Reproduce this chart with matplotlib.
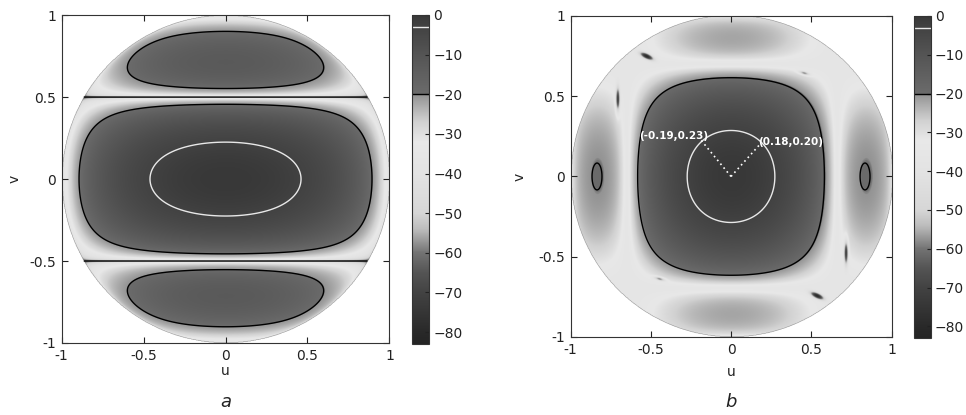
import numpy as np
import matplotlib
matplotlib.use('Agg')
import matplotlib.pyplot as plt
from matplotlib.colors import LinearSegmentedColormap

# dB -> gray colour scale
scale_db = [-83, -80, -70, -65, -60, -57, -54, -50, -40, -32, -27, -23, -20.2, -20, -10, -3, 0]
scale_gray = [0.14, 0.16, 0.26, 0.33, 0.45, 0.60, 0.74, 0.84, 0.89, 0.91, 0.82, 0.68, 0.58, 0.42, 0.33, 0.26, 0.22]
cbar_ticks = [0, -10, -20, -30, -40, -50, -60, -70, -80]
contour_levels = [-20, -3]
contour_colors = ['black', '#e8e8e8']
axis_ticks = [-1, -0.5, 0, 0.5, 1]
axis_ticklabels = ['-1', '-0.5', '0', '0.5', '1']

# panel a: 2-element factor in v times element pattern
a_spacing = 1.0
a_pu = 2.3
a_pv = 2.12
a_pr = 0.6
a_floor_db = -34

# panel b: separable pattern + filled nulls
b_au = 4.8
b_av = 4.5
b_pu = 1.05
b_pv = 1.2
b_floor_db = -36
b_null_u = [-0.53, 0.45, -0.71, 0.71, -0.45, 0.53]
b_null_v = [0.745, 0.64, 0.477, -0.477, -0.64, -0.745]
b_null_len = [0.045, 0.035, 0.075, 0.075, 0.035, 0.045]
b_null_wid = [0.016, 0.010, 0.012, 0.012, 0.010, 0.016]
b_null_ang = [-25, -15, 90, 90, -15, -25]
b_null_depth = [45, 28, 40, 40, 28, 45]

# half power points marked on panel b
peak_u = [-0.19, 0.18]
peak_v = [0.23, 0.20]
peak_text = ['(-0.19,0.23)', '(0.18,0.20)']
peak_text_uv = [(-0.36, 0.25), (0.37, 0.215)]

vmin, vmax = -83, 0
pos = [(d - vmin) / (vmax - vmin) for d in scale_db]
cmap = LinearSegmentedColormap.from_list('dbgray', [(p, (g, g, g)) for p, g in zip(pos, scale_gray)], N=1024)

n = 700
uu = np.linspace(-1, 1, n)
U, V = np.meshgrid(uu, uu)
R2 = U**2 + V**2
inside = R2 <= 1.0
Uc = np.clip(1 - U**2, 0, 1)
Vc = np.clip(1 - V**2, 0, 1)
Rc = np.clip(1 - R2, 0, 1)

# pattern a
AFa = np.cos(np.pi * a_spacing * V)
Pa = AFa**2 * (Uc**a_pu * Vc**a_pv * Rc**a_pr + 10**(a_floor_db / 10))
Da = 10 * np.log10(np.maximum(Pa, 1e-12))
Da = np.clip(Da, vmin, vmax)
Da = np.ma.masked_where(~inside, Da)

# pattern b
Pb = np.sinc(b_au * U / np.pi)**2 * np.sinc(b_av * V / np.pi)**2 * Uc**b_pu * Vc**b_pv
Pb = Pb + 10**(b_floor_db / 10)
Db = 10 * np.log10(np.maximum(Pb, 1e-12))
for nu, nv, ln, wd, ang, dep in zip(b_null_u, b_null_v, b_null_len, b_null_wid, b_null_ang, b_null_depth):
    t = np.deg2rad(ang)
    du = U - nu
    dv = V - nv
    along = du * np.cos(t) + dv * np.sin(t)
    across = -du * np.sin(t) + dv * np.cos(t)
    q = (along / ln)**2 + (across / wd)**2
    Db = Db - dep * np.exp(-q)
Db = np.clip(Db, vmin, vmax)
Db = np.ma.masked_where(~inside, Db)

fig = plt.figure(figsize=(9.66, 4.15), dpi=100)
ax_a = fig.add_axes([0.0611, 0.1735, 0.3447, 0.790])
cax_a = fig.add_axes([0.4265, 0.171, 0.0176, 0.793])
ax_b = fig.add_axes([0.588, 0.188, 0.3375, 0.7735])
cax_b = fig.add_axes([0.946, 0.1855, 0.0176, 0.776])

txt = '#222222'
panels = [(ax_a, cax_a, Da, 'a', -0.123, -0.18, 1), (ax_b, cax_b, Db, 'b', -0.138, -0.2025, 6)]
for ax, cax, D, letter, ylab_x, let_y, xpad in panels:
    im = ax.imshow(D, extent=[-1, 1, -1, 1], origin='lower', cmap=cmap, vmin=vmin, vmax=vmax,
                   interpolation='bilinear')
    cs = ax.contour(U, V, D, levels=contour_levels, colors=contour_colors, linewidths=1.0)
    ax.set_xlim(-1, 1)
    ax.set_ylim(-1, 1)
    ax.set_xticks(axis_ticks)
    ax.set_xticklabels(axis_ticklabels)
    ax.set_yticks(axis_ticks)
    ax.set_yticklabels(axis_ticklabels)
    ax.tick_params(direction='in', length=4, labelsize=10, colors=txt, top=True, right=True, pad=4)
    for s in ax.spines.values():
        s.set_color('#333333')
    ax.set_xlabel('u', fontsize=10, color=txt, labelpad=xpad)
    ax.set_ylabel('v', fontsize=10, color=txt)
    ax.yaxis.set_label_coords(ylab_x, 0.5)
    ax.text(0.5, let_y, letter, transform=ax.transAxes, fontsize=13, style='italic',
            color=txt, ha='center', va='center')
    cb = fig.colorbar(im, cax=cax, ticks=cbar_ticks)
    cb.add_lines(cs)
    cb.outline.set_edgecolor('#333333')
    cax.tick_params(direction='in', length=3, labelsize=10, colors=txt, pad=3)

# null lines of pattern a (zeros of the array factor)
ax_a.contour(U, V, np.ma.masked_where(~inside, AFa), levels=[0], colors='#1a1a1a', linewidths=1.1)

for pu, pv, t, (tu, tv) in zip(peak_u, peak_v, peak_text, peak_text_uv):
    ax_b.plot([0, pu], [0, pv], linestyle=(0, (1, 2)), color='white', lw=1.2)
    ax_b.text(tu, tv, t, color='white', fontsize=7.5, fontweight='bold', ha='center', va='center')

fig.savefig('out.png', dpi=100)
